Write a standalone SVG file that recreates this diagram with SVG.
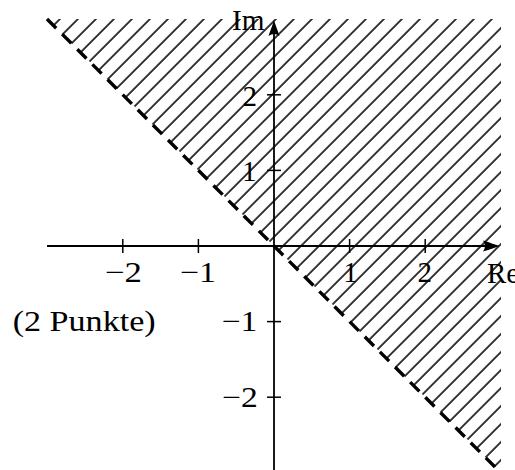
<svg xmlns="http://www.w3.org/2000/svg" width="515" height="470" viewBox="0 0 515 470">
<defs>
<style>
.ax{stroke:#000;stroke-width:1.8;fill:none}
.tick{stroke:#000;stroke-width:1.5}
.arrow{fill:#000;stroke:none}
.lbl{font-family:"Liberation Serif","Times New Roman",serif;font-size:29px;fill:#000}
.mid{text-anchor:middle}
.end{text-anchor:end}
.bound{stroke:#000;stroke-width:3.4;stroke-dasharray:13 8.4;fill:none}
</style>
<pattern id="hatch" patternUnits="userSpaceOnUse" width="12.728" height="12.728" patternTransform="rotate(-45)">
<line x1="-1" y1="4.95" x2="14" y2="4.95" stroke="#000" stroke-width="1.6"/>
</pattern>
</defs>
<rect width="515" height="470" fill="#fff"/>
<g id="region">
<polygon points="47,19 501,19 501,473" fill="url(#hatch)"/>
</g>
<g id="boundary">
<line class="bound" x1="47" y1="19" x2="501" y2="473"/>
</g>
<g id="axes">
<line class="ax" x1="47" y1="246" x2="494" y2="246"/>
<line class="ax" x1="274" y1="470" x2="274" y2="26"/>
<path class="arrow" d="M500,246 C496,245 490,242.5 483,240.5 Q487,246 483,251.5 C490,249.5 496,247 500,246 Z"/>
<path class="arrow" d="M274,20 C273,24 270.5,30 268.5,36 Q274,32 279.5,36 C277.5,30 275,24 274,20 Z"/>
<g id="ticks">
<line class="tick" x1="122.8" y1="239" x2="122.8" y2="253"/>
<line class="tick" x1="198.4" y1="239" x2="198.4" y2="253"/>
<line class="tick" x1="349.6" y1="239" x2="349.6" y2="253"/>
<line class="tick" x1="425.2" y1="239" x2="425.2" y2="253"/>
<line class="tick" x1="267" y1="94.8" x2="281" y2="94.8"/>
<line class="tick" x1="267" y1="170.4" x2="281" y2="170.4"/>
<line class="tick" x1="267" y1="321.6" x2="281" y2="321.6"/>
<line class="tick" x1="267" y1="397.2" x2="281" y2="397.2"/>
</g>
</g>
<g id="labels">
<text class="lbl" x="232" y="29.5" textLength="32.5" lengthAdjust="spacingAndGlyphs">Im</text>
<text class="lbl" x="487" y="283">Re</text>
<text class="lbl" x="105" y="282.3" textLength="37" lengthAdjust="spacingAndGlyphs">−2</text>
<text class="lbl" x="180" y="282.3" textLength="36" lengthAdjust="spacingAndGlyphs">−1</text>
<text class="lbl mid" x="350.5" y="282.3">1</text>
<text class="lbl mid" x="424.7" y="282.3">2</text>
<text class="lbl end" x="257" y="105.5">2</text>
<text class="lbl end" x="256.5" y="181">1</text>
<text class="lbl" x="221.7" y="331" textLength="35.7" lengthAdjust="spacingAndGlyphs">−1</text>
<text class="lbl" x="222" y="406.5" textLength="35.7" lengthAdjust="spacingAndGlyphs">−2</text>
<text class="lbl" x="12.7" y="331" textLength="143" lengthAdjust="spacingAndGlyphs">(2 Punkte)</text>
</g>
</svg>
